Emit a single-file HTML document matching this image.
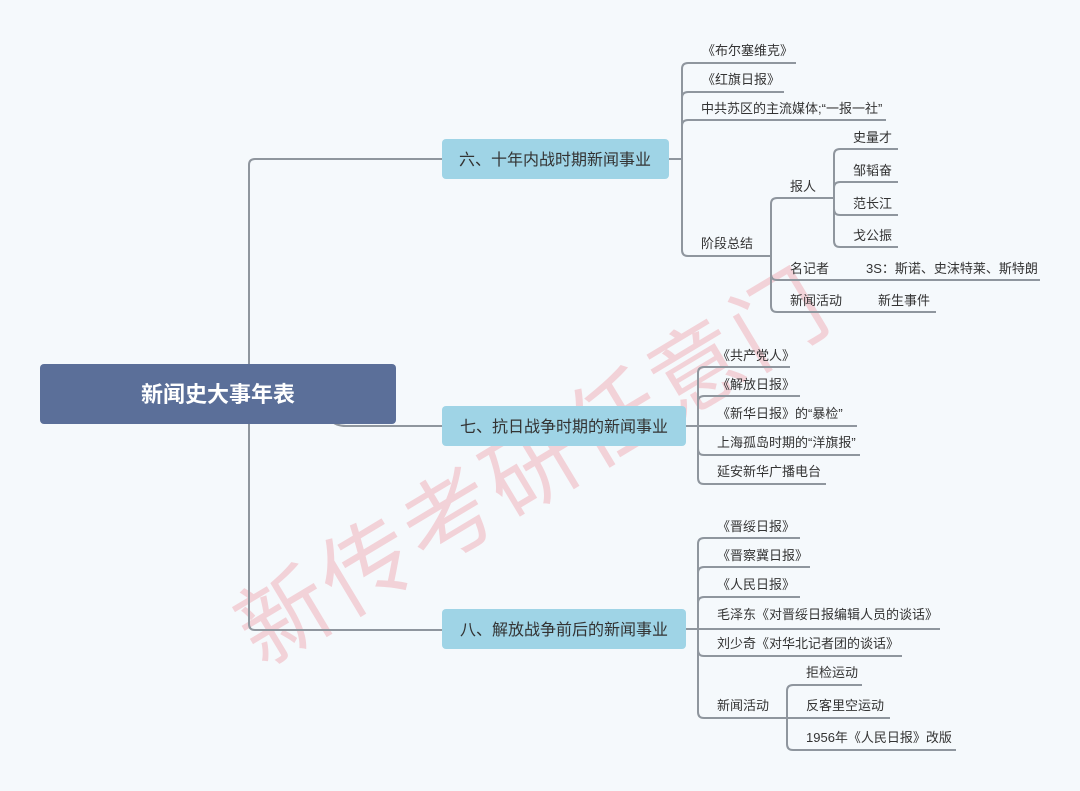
<!DOCTYPE html>
<html><head><meta charset="utf-8"><style>
html,body{margin:0;padding:0;background:#f5f9fc;}
svg{display:block;font-family:"Liberation Sans","Noto Sans CJK SC",sans-serif;}
.l{fill:none;stroke:#8f969e;stroke-width:2;}
.t{font-size:13px;fill:#333;}
.n{font-size:16px;fill:#333;}
</style></head><body>
<svg width="1080" height="791" viewBox="0 0 1080 791" xmlns="http://www.w3.org/2000/svg">
<rect width="1080" height="791" fill="#f5f9fc"/>
<text x="0" y="0" transform="translate(262,668) rotate(-31)" font-size="92" fill="#f2c6cc" opacity="0.75" letter-spacing="4">新传考研任意门</text>
<g class="l">
<path d="M249 394 V165 Q249 159 255 159 H442"/>
<path d="M249 394 V624 Q249 630 255 630 H442"/>
<path d="M330 420 Q336 426 346 426 H442"/>
<path d="M669 159 H682"/>
<path d="M682 159 V69 Q682 63 688 63 H796"/>
<path d="M682 159 V98 Q682 92 688 92 H784"/>
<path d="M682 159 V126 Q682 120 688 120 H886"/>
<path d="M682 159 V250 Q682 256 688 256 H771"/>
<path d="M771 256 V204 Q771 198 777 198 H834"/>
<path d="M771 256 V274 Q771 280 777 280 H1040"/>
<path d="M771 256 V306 Q771 312 777 312 H936"/>
<path d="M834 198 V155 Q834 149 840 149 H898"/>
<path d="M834 198 V188 Q834 182 840 182 H898"/>
<path d="M834 198 V209 Q834 215 840 215 H898"/>
<path d="M834 198 V241 Q834 247 840 247 H898"/>
<path d="M686 426 H698"/>
<path d="M698 426 V373 Q698 367 704 367 H790"/>
<path d="M698 426 V402 Q698 396 704 396 H800"/>
<path d="M698 426 H857"/>
<path d="M698 426 V449 Q698 455 704 455 H860"/>
<path d="M698 426 V478 Q698 484 704 484 H826"/>
<path d="M686 629 H698"/>
<path d="M698 629 V544 Q698 538 704 538 H800"/>
<path d="M698 629 V573 Q698 567 704 567 H810"/>
<path d="M698 629 V603 Q698 597 704 597 H800"/>
<path d="M698 629 H940"/>
<path d="M698 629 V650 Q698 656 704 656 H902"/>
<path d="M698 629 V712 Q698 718 704 718 H787"/>
<path d="M787 718 V691 Q787 685 793 685 H862"/>
<path d="M787 718 H890"/>
<path d="M787 718 V744 Q787 750 793 750 H956"/>
</g>
<rect x="40" y="364" width="356" height="60" rx="4" fill="#5b6f99"/>
<text x="218" y="402" text-anchor="middle" font-size="22" font-weight="bold" fill="#fff">新闻史大事年表</text>
<rect x="442" y="139" width="227" height="40" rx="4" fill="#9fd4e6"/>
<text x="555" y="165" text-anchor="middle" class="n">六、十年内战时期新闻事业</text>
<rect x="442" y="406" width="244" height="40" rx="4" fill="#9fd4e6"/>
<text x="564" y="432" text-anchor="middle" class="n">七、抗日战争时期的新闻事业</text>
<rect x="442" y="609" width="244" height="40" rx="4" fill="#9fd4e6"/>
<text x="564" y="635" text-anchor="middle" class="n">八、解放战争前后的新闻事业</text>
<g class="t">
<text x="702" y="55">《布尔塞维克》</text>
<text x="702" y="84">《红旗日报》</text>
<text x="701" y="113">中共苏区的主流媒体;“一报一社”</text>
<text x="701" y="248">阶段总结</text>
<text x="790" y="191">报人</text>
<text x="853" y="142">史量才</text>
<text x="853" y="175">邹韬奋</text>
<text x="853" y="208">范长江</text>
<text x="853" y="240">戈公振</text>
<text x="790" y="273">名记者</text>
<text x="866" y="273">3S：斯诺、史沫特莱、斯特朗</text>
<text x="790" y="305">新闻活动</text>
<text x="878" y="305">新生事件</text>
<text x="717" y="360">《共产党人》</text>
<text x="717" y="389">《解放日报》</text>
<text x="717" y="418">《新华日报》的“暴检”</text>
<text x="717" y="447">上海孤岛时期的“洋旗报”</text>
<text x="717" y="476">延安新华广播电台</text>
<text x="717" y="531">《晋绥日报》</text>
<text x="717" y="560">《晋察冀日报》</text>
<text x="717" y="589">《人民日报》</text>
<text x="717" y="619">毛泽东《对晋绥日报编辑人员的谈话》</text>
<text x="717" y="648">刘少奇《对华北记者团的谈话》</text>
<text x="717" y="710">新闻活动</text>
<text x="806" y="677">拒检运动</text>
<text x="806" y="710">反客里空运动</text>
<text x="806" y="742">1956年《人民日报》改版</text>
</g>
</svg>
</body></html>
